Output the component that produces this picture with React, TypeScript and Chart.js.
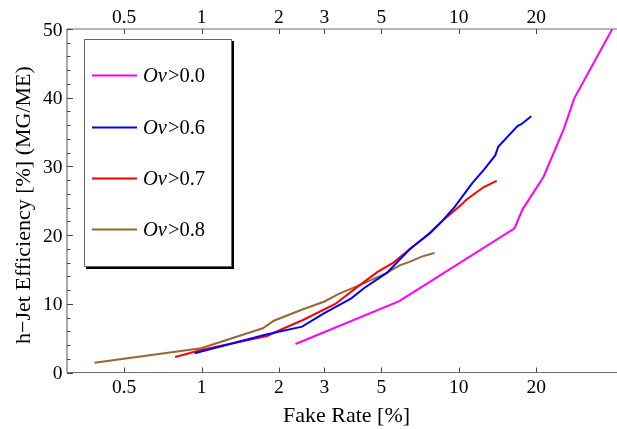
import React, { useEffect, useRef } from "react";
import { Chart, registerables } from "chart.js";

Chart.register(...registerables);

// ---- data ----
const xTickValues = [0.5, 1, 2, 3, 5, 10, 20];
const xTickLabels = ["0.5", "1", "2", "3", "5", "10", "20"];
const yTickValues = [0, 10, 20, 30, 40, 50];
const yTickLabels = ["0", "10", "20", "30", "40", "50"];
const xMin = 0.348;
const xMax = 41.2;
const yMin = 0;
const yMax = 50;

const seriesLabels = ["0.0", "0.6", "0.7", "0.8"];
const seriesColors = ["#ff00ff", "#0000ff", "#ff0000", "#996633"];

const ov00X = [2.32, 5.87, 16.47, 17.7, 21.36, 25.63, 28.11, 39.5];
const ov00Y = [4.15, 10.4, 21.0, 23.75, 28.5, 35.5, 39.9, 50.0];

const ov06X = [0.94, 1.8, 2.46, 2.99, 3.82, 4.29, 5.25, 6.43, 7.65, 8.59, 9.64, 11.3, 12.51, 13.85, 14.25, 16.95, 17.44, 19.13];
const ov06Y = [2.79, 5.56, 6.67, 8.62, 10.8, 12.3, 14.5, 17.9, 20.2, 22.0, 24.1, 27.6, 29.5, 31.6, 32.9, 35.9, 36.1, 37.3];

const ov07X = [0.79, 0.996, 1.8, 2.02, 2.48, 3.31, 4.05, 4.82, 5.57, 6.62, 7.76, 8.71, 10.22, 10.67, 11.3, 12.51, 14.04];
const ov07Y = [2.26, 3.28, 5.31, 6.19, 7.64, 9.97, 12.5, 14.6, 16.0, 18.3, 20.3, 22.2, 24.4, 25.1, 25.8, 27.0, 27.9];

const ov08X = [0.3835, 0.996, 1.73, 1.91, 2.02, 2.48, 2.99, 3.4, 4.29, 5.25, 5.89, 6.43, 7.22, 8.04];
const ov08Y = [1.43, 3.52, 6.43, 7.54, 7.89, 9.2, 10.3, 11.4, 13.0, 14.5, 15.6, 16.1, 16.9, 17.4];

const xTitle = "Fake Rate [%]";
const yTitle = "h\u2212Jet Efficiency [%] (MG/ME)";

const seriesX = [ov00X, ov06X, ov07X, ov08X];
const seriesY = [ov00Y, ov06Y, ov07Y, ov08Y];

const SERIF = "'Liberation Serif', 'DejaVu Serif', serif";
const AXIS_COLOR = "#707070";

const framePlugin = {
  id: "framePlugin",
  afterDraw(chart: any) {
    const { ctx, chartArea } = chart;
    const { left, right, top, bottom } = chartArea;
    const xs = chart.scales.x;
    const ys = chart.scales.y;
    ctx.save();
    // axes lines
    ctx.strokeStyle = AXIS_COLOR;
    ctx.lineWidth = 1.2;
    ctx.beginPath();
    ctx.moveTo(left, top);
    ctx.lineTo(right, top);
    ctx.moveTo(left, bottom);
    ctx.lineTo(right, bottom);
    ctx.moveTo(left, top);
    ctx.lineTo(left, bottom);
    ctx.stroke();
    // x ticks (inward, bottom & top)
    ctx.strokeStyle = "#444";
    ctx.lineWidth = 1;
    ctx.beginPath();
    for (const v of xTickValues) {
      const px = Math.round(xs.getPixelForValue(v)) + 0.5;
      ctx.moveTo(px, bottom);
      ctx.lineTo(px, bottom - 5);
      ctx.moveTo(px, top);
      ctx.lineTo(px, top + 5);
    }
    // y ticks
    for (let v = yMin; v <= yMax; v += 2) {
      const py = Math.round(ys.getPixelForValue(v)) + 0.5;
      const len = v % 10 === 0 ? 6 : 3.5;
      ctx.moveTo(left, py);
      ctx.lineTo(left + len, py);
    }
    ctx.stroke();

    // tick labels
    ctx.fillStyle = "#000";
    ctx.font = `19.5px ${SERIF}`;
    ctx.textAlign = "center";
    ctx.textBaseline = "alphabetic";
    xTickValues.forEach((v, i) => {
      const px = xs.getPixelForValue(v);
      ctx.fillText(xTickLabels[i], px, bottom + 20);
      ctx.fillText(xTickLabels[i], px, top - 6.5);
    });
    ctx.textAlign = "right";
    yTickValues.forEach((v, i) => {
      const py = ys.getPixelForValue(v);
      ctx.fillText(yTickLabels[i], left - 4.5, py + 6.5);
    });

    // axis titles
    ctx.font = `22px ${SERIF}`;
    ctx.textAlign = "center";
    ctx.textBaseline = "alphabetic";
    ctx.fillText(xTitle, 346.5, 421.5);
    ctx.save();
    ctx.translate(30, 205);
    ctx.rotate(-Math.PI / 2);
    ctx.fillText(yTitle, 0, 0);
    ctx.restore();

    // legend box
    const bx = 84, by = 39, bw = 148, bh = 228;
    ctx.fillStyle = "#000";
    ctx.fillRect(bx + 2, by + 2, bw, bh);
    ctx.fillStyle = "#fff";
    ctx.fillRect(bx, by, bw, bh);
    ctx.strokeStyle = "#666";
    ctx.lineWidth = 1;
    ctx.strokeRect(bx + 0.5, by + 0.5, bw - 1, bh - 1);
    const itemY = [75.5, 127.5, 178.5, 229.5];
    seriesLabels.forEach((lab, i) => {
      const y = itemY[i];
      ctx.strokeStyle = seriesColors[i];
      ctx.lineWidth = 2;
      ctx.beginPath();
      ctx.moveTo(92, y);
      ctx.lineTo(137, y);
      ctx.stroke();
      ctx.fillStyle = "#000";
      ctx.textAlign = "left";
      ctx.textBaseline = "middle";
      ctx.font = `italic 20.5px ${SERIF}`;
      const part1 = "Ov";
      ctx.fillText(part1, 143, y + 1);
      const w1 = ctx.measureText(part1).width;
      ctx.font = `20.5px ${SERIF}`;
      ctx.fillText(">" + lab, 143 + w1 + 1, y + 1);
    });
    ctx.restore();
  },
};

export default function App() {
  const canvasRef = useRef<HTMLCanvasElement | null>(null);

  useEffect(() => {
    const canvas = canvasRef.current;
    if (!canvas) return;
    const chart = new Chart(canvas, {
      type: "line",
      data: {
        datasets: seriesLabels.map((lab, i) => ({
          label: "Ov>" + lab,
          data: seriesX[i].map((x, j) => ({ x, y: seriesY[i][j] })),
          borderColor: seriesColors[i],
          backgroundColor: seriesColors[i],
          borderWidth: 2,
          pointRadius: 0,
          tension: 0,
          fill: false,
        })),
      },
      options: {
        animation: false,
        responsive: false,
        devicePixelRatio: 1,
        layout: { padding: { left: 67, top: 29, right: 0, bottom: 56.5 } },
        plugins: {
          legend: { display: false },
          tooltip: { enabled: false },
        },
        scales: {
          x: {
            type: "logarithmic",
            position: "bottom",
            min: xMin,
            max: xMax,
            display: false,
          },
          y: {
            type: "linear",
            position: "left",
            min: yMin,
            max: yMax,
            display: false,
          },
        },
      } as any,
      plugins: [framePlugin],
    });
    return () => chart.destroy();
  }, []);

  return (
    <div style={{ position: "absolute", left: 0, top: 0, width: 617, height: 429, background: "#fff" }}>
      <canvas ref={canvasRef} width={617} height={429} />
    </div>
  );
}
